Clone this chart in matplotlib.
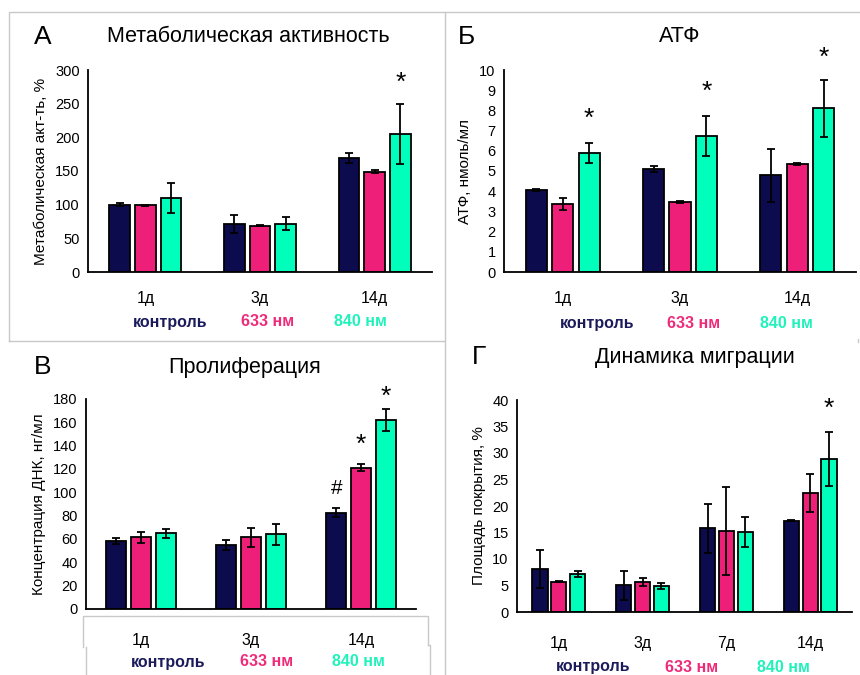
import matplotlib
matplotlib.use('Agg')
import matplotlib.pyplot as plt
from matplotlib.lines import Line2D

plt.rcParams['font.family'] = ['Liberation Sans', 'DejaVu Sans']

# цвета групп
colors = ['#0B0B4E', '#EE1F78', '#00FFBB']
text_colors = ['#1B1B5C', '#EE2A79', '#1FF2BB']
groups = ['контроль', '633 нм', '840 нм']

# А - метаболическая активность
days_a = ['1д', '3д', '14д']
met_ctrl = [100, 71, 169]
met_633 = [99, 69, 149]
met_840 = [110, 72, 205]
met_ctrl_err = [2, 13, 7]
met_633_err = [1, 1, 2]
met_840_err = [22.5, 9.5, 44]

# Б - АТФ
days_b = ['1д', '3д', '14д']
atp_ctrl = [4.06, 5.08, 4.79]
atp_633 = [3.35, 3.47, 5.35]
atp_840 = [5.91, 6.73, 8.1]
atp_ctrl_err = [0.07, 0.15, 1.3]
atp_633_err = [0.3, 0.05, 0.06]
atp_840_err = [0.5, 1.0, 1.4]

# В - пролиферация
days_c = ['1д', '3д', '14д']
dna_ctrl = [58.3, 55.1, 82.6]
dna_633 = [61.4, 61.4, 121.1]
dna_840 = [64.9, 64.0, 161.7]
dna_ctrl_err = [2.9, 4.4, 4.0]
dna_633_err = [5.0, 8.4, 3.0]
dna_840_err = [3.7, 9.0, 9.3]

# Г - миграция
days_d = ['1д', '3д', '7д', '14д']
mig_ctrl = [8.05, 5.03, 15.8, 17.2]
mig_633 = [5.72, 5.6, 15.35, 22.5]
mig_840 = [7.23, 4.84, 15.1, 28.9]
mig_ctrl_err = [3.6, 2.75, 4.65, 0.1]
mig_633_err = [0.15, 0.75, 8.3, 3.6]
mig_840_err = [0.55, 0.55, 2.85, 5.1]

W, H = 860, 675
fig = plt.figure(figsize=(W / 100, H / 100), dpi=100)


def fx(x):
    return x / W


def fy(y):
    return 1 - y / H


def panel(x0, y0, x1, y1, days, vals, errs, ymax, ystep, ylabel, title,
          letter, title_x, title_y, letter_x, label_x, lab_pad, legend_y, legend_x):
    ax = fig.add_axes([fx(x0), fy(y1), (x1 - x0) / W, (y1 - y0) / H])
    n = len(days)
    offs = [-0.225, 0, 0.225]
    for k in range(3):
        xs = [i + offs[k] for i in range(n)]
        ax.bar(xs, vals[k], width=0.18, color=colors[k], edgecolor='black',
               linewidth=1.3, zorder=2)
        ax.errorbar(xs, vals[k], yerr=errs[k], fmt='none', ecolor='black',
                    elinewidth=1.3, capsize=2.6, capthick=1.3, zorder=3)
    ax.set_xlim(-0.5, n - 0.5)
    ax.set_ylim(0, ymax)
    yt = [ystep * i for i in range(int(round(ymax / ystep)) + 1)]
    ax.set_yticks(yt)
    ax.set_yticklabels([str(int(v)) for v in yt], fontsize=10.5)
    ax.set_xticks(range(n))
    ax.set_xticklabels(days, fontsize=11.5)
    ax.tick_params(axis='y', length=0, pad=6)
    ax.tick_params(axis='x', length=0, pad=lab_pad)
    for s in ['top', 'right']:
        ax.spines[s].set_visible(False)
    ax.spines['left'].set_linewidth(1.3)
    ax.spines['bottom'].set_linewidth(1.3)
    ax.set_ylabel(ylabel, fontsize=11)
    # подпись оси: отступ подобран по картинке
    ax.yaxis.set_label_coords((label_x + 9 - x0) / (x1 - x0), 0.5)
    fig.text(fx(title_x), fy(title_y), title, fontsize=15.5, ha='center', va='center')
    fig.text(fx(letter_x), fy(title_y), letter, fontsize=19, ha='center', va='center')
    for k in range(3):
        fig.text(fx(legend_x[k]), fy(legend_y), groups[k], fontsize=11.5,
                 fontweight='bold', color=text_colors[k], ha='center', va='center')
    return ax


def star(ax, x, y, s='*'):
    if s == '*':
        ax.text(x, y, s, fontsize=19, ha='center', va='center', clip_on=False)
    else:
        ax.text(x, y, s, fontsize=15, ha='center', va='center', clip_on=False)


ax1 = panel(88, 70, 432, 272, days_a, [met_ctrl, met_633, met_840],
            [met_ctrl_err, met_633_err, met_840_err], 300, 50,
            'Метаболическая акт-ть, %', 'Метаболическая активность', 'А',
            248, 37, 43, 39, 14, 322, [170, 268, 360])
star(ax1, 2.225, 281)

ax2 = panel(504, 70, 856, 272, days_b, [atp_ctrl, atp_633, atp_840],
            [atp_ctrl_err, atp_633_err, atp_840_err], 10, 1,
            'АТФ, нмоль/мл', 'АТФ', 'Б',
            680, 37, 467, 463, 14, 323, [597, 694, 786])
star(ax2, 0.225, 7.6)
star(ax2, 1.225, 8.9)
star(ax2, 2.225, 10.6)

ax3 = panel(86, 399, 416, 609, days_c, [dna_ctrl, dna_633, dna_840],
            [dna_ctrl_err, dna_633_err, dna_840_err], 180, 20,
            'Концентрация ДНК, нг/мл', 'Пролиферация', 'В',
            245, 367, 43, 37, 17, 662, [168, 267, 358])
star(ax3, 2 - 0.225, 103, '#')
star(ax3, 2.0, 141)
star(ax3, 2.225, 182)

ax4 = panel(517, 400, 852, 612, days_d, [mig_ctrl, mig_633, mig_840],
            [mig_ctrl_err, mig_633_err, mig_840_err], 40, 5,
            'Площадь покрытия, %', 'Динамика миграции', 'Г',
            695, 357, 479, 477, 17, 667, [593, 692, 783])
star(ax4, 3.225, 38.3)

# серые рамки вокруг панелей
gray = '#C8C8C8'


def gline(xs, ys):
    fig.add_artist(Line2D([fx(x) for x in xs], [fy(y) for y in ys],
                          color=gray, linewidth=1))


gline([9, 9, 445, 445, 9], [341, 12, 12, 341, 341])
gline([445, 860], [12, 12])
gline([445, 445], [341, 675])
gline([858, 858], [339, 342])
# рамка под подписями панели В
gline([83, 83, 428, 428], [647, 616, 616, 645])
gline([428, 430, 430], [645, 645, 675])
gline([86, 86], [647, 675])

fig.savefig('out.png', dpi=100)
